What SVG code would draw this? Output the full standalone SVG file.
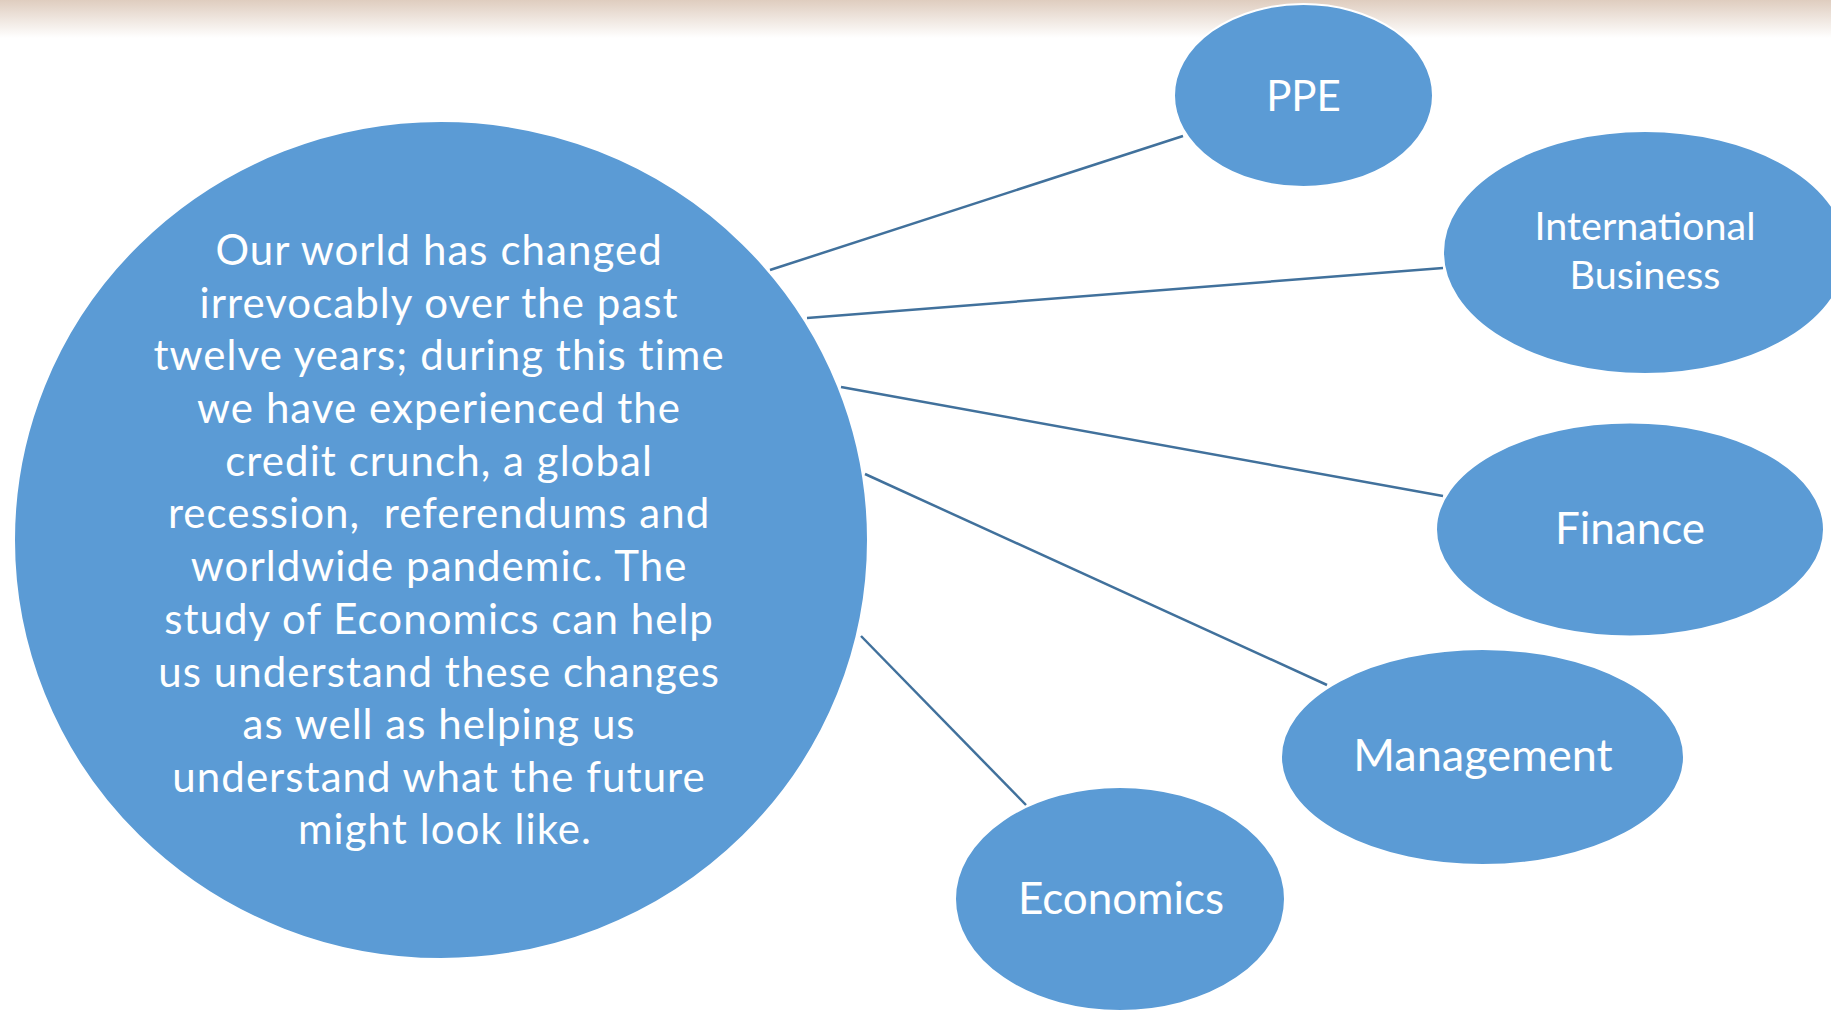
<svg xmlns="http://www.w3.org/2000/svg" width="1831" height="1010" viewBox="0 0 1831 1010">
<defs>
<linearGradient id="topband" x1="0" y1="0" x2="0" y2="1">
<stop offset="0" stop-color="#dfcdbf"/>
<stop offset="1" stop-color="#ffffff"/>
</linearGradient>
</defs>
<style>
.node{fill:#5b9bd5;stroke:#ffffff;stroke-width:2}
.lbl{fill:#ffffff;font-family:Lato,"Open Sans",sans-serif;text-anchor:middle}
.body{letter-spacing:1.05px}
.conn{stroke:#41719c;stroke-width:2.5;fill:none}
</style>
<rect x="0" y="0" width="1831" height="1010" fill="#ffffff"/>
<rect x="0" y="0" width="1831" height="38" fill="url(#topband)"/>
<g id="connectors">
<line class="conn" x1="770" y1="270" x2="1183" y2="136"/>
<line class="conn" x1="807" y1="318" x2="1443" y2="268"/>
<line class="conn" x1="841" y1="387" x2="1443" y2="496"/>
<line class="conn" x1="865" y1="474" x2="1327" y2="685"/>
<line class="conn" x1="861" y1="636" x2="1026" y2="805"/>
</g>
<g id="center">
<ellipse class="node" cx="441" cy="540" rx="427" ry="419"/>
<text class="lbl body" font-size="42">
<tspan x="445" y="265">Our world has changed</tspan>
<tspan x="445" y="318">irrevocably over the past</tspan>
<tspan x="445" y="370">twelve years; during this time</tspan>
<tspan x="445" y="423">we have experienced the</tspan>
<tspan x="445" y="476">credit crunch, a global</tspan>
<tspan x="445" y="528" xml:space="preserve">recession,  referendums and</tspan>
<tspan x="445" y="581">worldwide pandemic. The</tspan>
<tspan x="445" y="634">study of Economics can help</tspan>
<tspan x="445" y="687">us understand these changes</tspan>
<tspan x="445" y="739">as well as helping us</tspan>
<tspan x="445" y="792">understand what the future</tspan>
<tspan x="445" y="844">might look like.</tspan>
</text>
</g>
<g id="ppe">
<ellipse class="node" cx="1303.5" cy="95.5" rx="129.5" ry="91.5"/>
<text class="lbl" font-size="42" x="1303.5" y="111">PPE</text>
</g>
<g id="international-business">
<ellipse class="node" cx="1645" cy="252.5" rx="202" ry="121.5"/>
<text class="lbl" font-size="39.5"><tspan x="1645" y="240">International</tspan><tspan x="1645" y="289">Business</tspan></text>
</g>
<g id="finance">
<ellipse class="node" cx="1630" cy="529.5" rx="194" ry="107"/>
<text class="lbl" font-size="44" x="1630" y="544">Finance</text>
</g>
<g id="management">
<ellipse class="node" cx="1482.5" cy="757" rx="201.5" ry="108"/>
<text class="lbl" font-size="45" x="1483" y="771">Management</text>
</g>
<g id="economics">
<ellipse class="node" cx="1120" cy="899" rx="165" ry="112"/>
<text class="lbl" font-size="44" x="1121" y="914">Economics</text>
</g>
</svg>
